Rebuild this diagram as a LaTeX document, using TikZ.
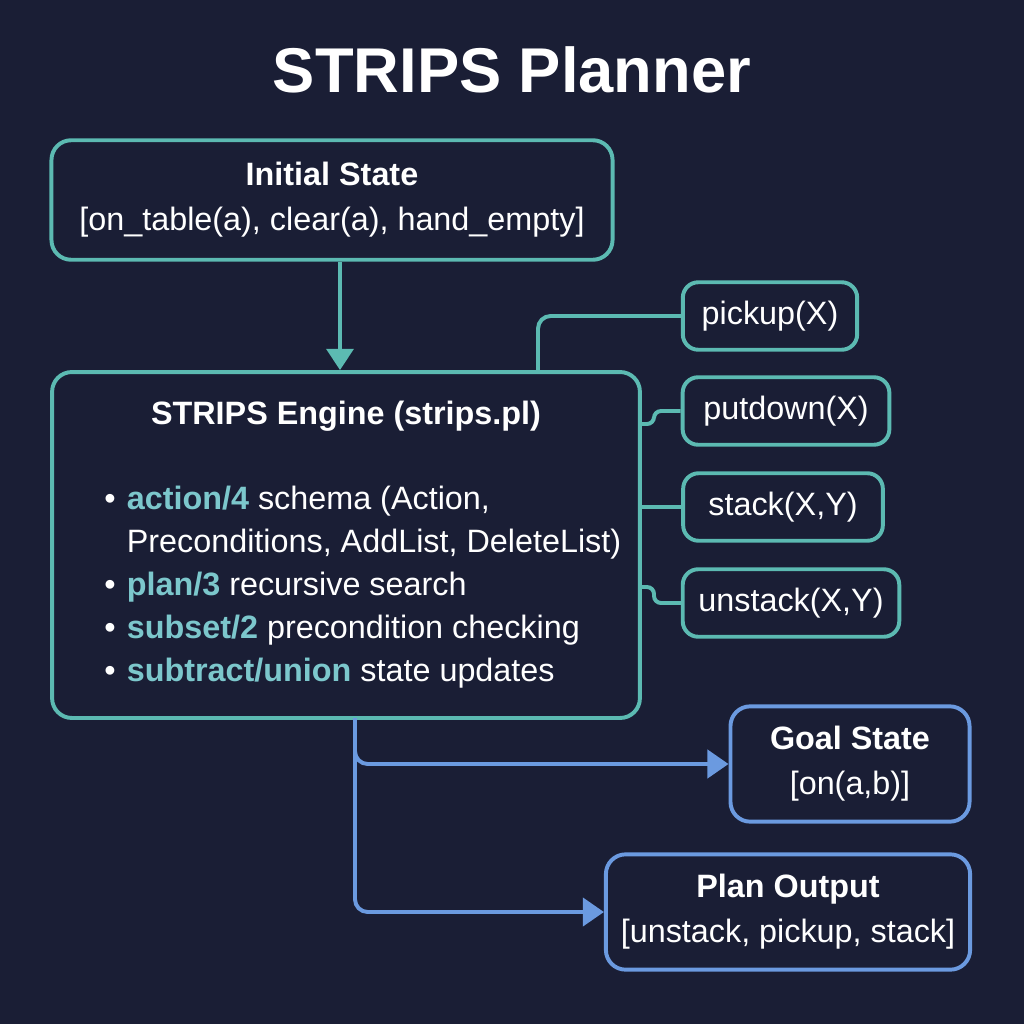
\documentclass[tikz,border=0pt]{standalone}
\usepackage{fontspec}
\setmainfont{Liberation Sans}
\usetikzlibrary{arrows.meta}

\definecolor{bgnavy}{HTML}{1A1E35}
\definecolor{tealline}{HTML}{5CBAB2}
\definecolor{blueline}{HTML}{6B9AE0}
\definecolor{keyteal}{HTML}{7CC7CC}

\newcommand{\bodysize}{\fontsize{23pt}{32pt}\selectfont}
\newcommand{\kw}[1]{\textbf{\color{keyteal}#1}}

\tikzset{
  tealbox/.style={draw=tealline, line width=2.8pt, rounded corners=14pt, fill=bgnavy,
    text=white, align=center, font=\bodysize, inner sep=0pt},
  bluebox/.style={tealbox, draw=blueline},
  actbox/.style={tealbox, rounded corners=11pt, minimum height=48pt},
  tealwire/.style={draw=tealline, line width=2.8pt, rounded corners=9pt},
  bluewire/.style={draw=blueline, line width=2.8pt, rounded corners=9pt,
    -{Triangle[length=15pt, width=20pt]}},
}

\begin{document}
\begin{tikzpicture}[x=0.025cm, y=-0.025cm]

\fill[bgnavy] (0,0) rectangle (1024,1024);
\useasboundingbox (0,0) rectangle (1024,1024);

\node[text=white, font=\fontsize{45pt}{50pt}\selectfont\bfseries] (title) at (512,70) {STRIPS Planner};

% states and engine
\node[tealbox, minimum width=399pt, minimum height=85pt] (init) at (332,200)
  {\textbf{Initial State}\\{}[on\_table(a), clear(a), hand\_empty]};
\node[tealbox, minimum width=418pt, minimum height=246pt] (engine) at (346,545) {};
\node[text=white, font=\bodysize\bfseries] (enginetitle) at (346,416) {STRIPS Engine (strips.pl)};
\node[text=white, anchor=west, inner sep=0pt] (enginelist) at (104,587) {%
  \fontsize{23pt}{30.6pt}\selectfont
  \begin{tabular}{@{}l@{\hspace{8pt}}l@{}}
  \textbullet & \kw{action/4} schema (Action,\\
              & Preconditions, AddList, DeleteList)\\
  \textbullet & \kw{plan/3} recursive search\\
  \textbullet & \kw{subset/2} precondition checking\\
  \textbullet & \kw{subtract/union} state updates
  \end{tabular}};

% actions
\node[actbox, minimum width=124pt] (pickup) at (770,316) {pickup(X)};
\node[actbox, minimum width=147pt] (putdown) at (786,411) {putdown(X)};
\node[actbox, minimum width=142pt] (stack) at (783,507) {stack(X,Y)};
\node[actbox, minimum width=154pt] (unstack) at (791,603) {unstack(X,Y)};

% results
\node[bluebox, minimum width=170pt, minimum height=82pt] (goal) at (850,764)
  {\textbf{Goal State}\\{}[on(a,b)]};
\node[bluebox, minimum width=259pt, minimum height=82pt] (plan) at (788,912)
  {\textbf{Plan Output}\\{}[unstack, pickup, stack]};

\coordinate (pk) at (538,372);
\coordinate (pd) at (640,424);
\coordinate (us) at (640,587);
\coordinate (out) at (355,718);

\draw[tealwire, rounded corners=0pt, -{Triangle[length=15pt, width=19pt]}]
  (init.south -| 340,0) -- (engine.north -| 340,0);
\draw[tealwire] (pk) |- (pickup.west);
\draw[tealwire, rounded corners=5pt] (pd) -- ++(14,0) |- (putdown.west);
\draw[tealwire] (stack.west -| engine.east) -- (stack.west);
\draw[tealwire, rounded corners=5pt] (us) -- ++(14,0) |- (unstack.west);

\draw[bluewire] (out) |- (goal.west);
\draw[bluewire] (out) |- (plan.west);

\end{tikzpicture}
\end{document}
